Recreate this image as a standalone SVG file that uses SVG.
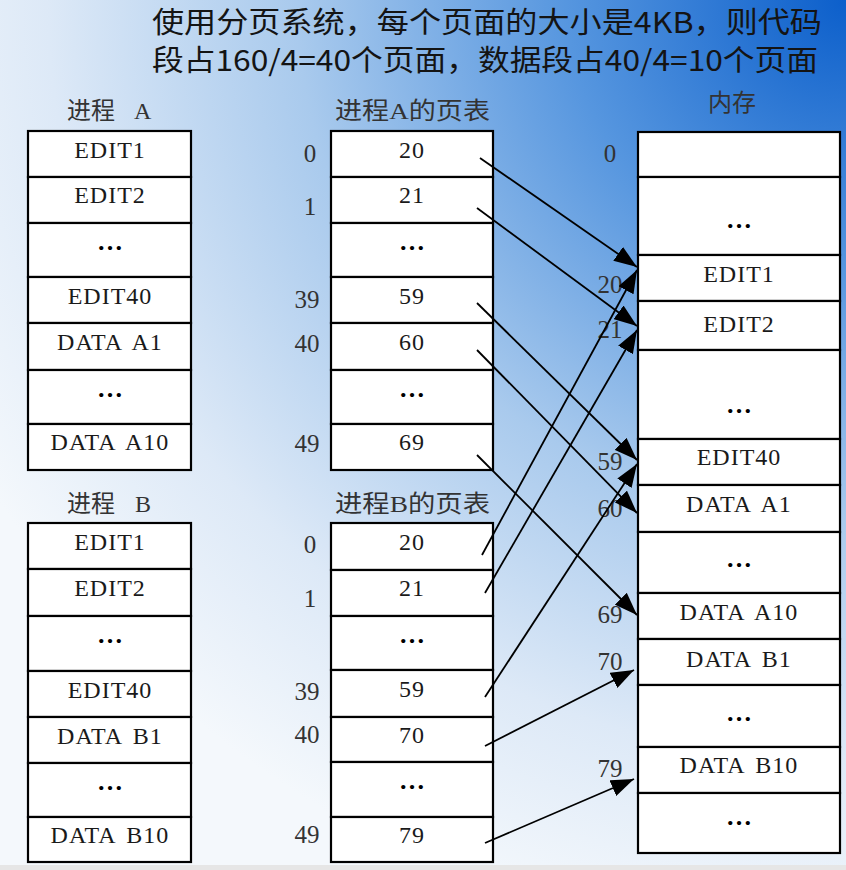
<svg xmlns="http://www.w3.org/2000/svg" width="846" height="870" viewBox="0 0 846 870">
<defs>
<radialGradient id="bg" gradientUnits="userSpaceOnUse" cx="846" cy="0" r="950" gradientTransform="translate(846 0) scale(1.05 1) translate(-846 0)">
<stop offset="0" stop-color="#0c5fcb"/>
<stop offset="0.28" stop-color="#5696df"/>
<stop offset="0.55" stop-color="#a9caed"/>
<stop offset="0.8" stop-color="#dde9f7"/>
<stop offset="1" stop-color="#f4f8fc"/>
</radialGradient>
<marker id="ah" markerUnits="userSpaceOnUse" markerWidth="23" markerHeight="17" refX="23" refY="8.5" orient="auto">
<path d="M0,0 L23,8.5 L0,17 z" fill="#000"/>
</marker>
<style>
.cell{fill:#fff;stroke:#000;stroke-width:2.2}
.t{font-family:"Liberation Serif","Noto Sans CJK SC",serif;font-size:24px;fill:#1a1a1a;text-anchor:middle;letter-spacing:1px;word-spacing:4px}
.dots{font-family:"Liberation Serif",serif;font-size:26px;fill:#000;text-anchor:middle;font-weight:bold}
.lbl{font-family:"Liberation Serif",serif;font-size:25px;fill:#333;text-anchor:middle}
.hd{font-family:"Liberation Serif","Noto Sans CJK SC",sans-serif;font-size:24px;fill:#333}
.title{font-family:"Noto Sans CJK SC","Liberation Sans",sans-serif;font-size:29px;fill:#141414}
.arr{stroke:#000;stroke-width:1.8;fill:none;marker-end:url(#ah)}
</style>
</defs>
<rect x="0" y="0" width="846" height="870" fill="url(#bg)"/>
<rect x="0" y="865" width="846" height="5" fill="#e6e6e6"/>

<g id="title">
<text class="title" x="152" y="33" textLength="670" lengthAdjust="spacingAndGlyphs">使用分页系统，每个页面的大小是4KB，则代码</text>
<text class="title" x="152" y="71" textLength="666" lengthAdjust="spacingAndGlyphs">段占160/4=40个页面，数据段占40/4=10个页面</text>
</g>

<g id="headers">
<text class="hd" x="67" y="119">进程 <tspan x="134">A</tspan></text>
<text class="hd" x="335" y="119" textLength="155" lengthAdjust="spacingAndGlyphs">进程A的页表</text>
<text class="hd" x="708" y="111">内存</text>
<text class="hd" x="67" y="512">进程 <tspan x="135">B</tspan></text>
<text class="hd" x="335" y="512" textLength="155" lengthAdjust="spacingAndGlyphs">进程B的页表</text>
</g>

<g id="processA">
<rect class="cell" x="28" y="131" width="163" height="46"/>
<rect class="cell" x="28" y="177" width="163" height="46"/>
<rect class="cell" x="28" y="223" width="163" height="54"/>
<rect class="cell" x="28" y="277" width="163" height="46"/>
<rect class="cell" x="28" y="323" width="163" height="47"/>
<rect class="cell" x="28" y="370" width="163" height="54"/>
<rect class="cell" x="28" y="424" width="163" height="46"/>
<text class="t" x="110" y="158">EDIT1</text>
<text class="t" x="110" y="203">EDIT2</text>
<text class="dots" x="110" y="250">…</text>
<text class="t" x="110" y="304">EDIT40</text>
<text class="t" x="110" y="350">DATA A1</text>
<text class="dots" x="110" y="397">…</text>
<text class="t" x="110" y="450">DATA A10</text>
</g>

<g id="pageTableA">
<rect class="cell" x="331" y="131" width="162" height="46"/>
<rect class="cell" x="331" y="177" width="162" height="46"/>
<rect class="cell" x="331" y="223" width="162" height="54"/>
<rect class="cell" x="331" y="277" width="162" height="46"/>
<rect class="cell" x="331" y="323" width="162" height="47"/>
<rect class="cell" x="331" y="370" width="162" height="54"/>
<rect class="cell" x="331" y="424" width="162" height="46"/>
<text class="t" x="412" y="158">20</text>
<text class="t" x="412" y="203">21</text>
<text class="dots" x="412" y="250">…</text>
<text class="t" x="412" y="304">59</text>
<text class="t" x="412" y="350">60</text>
<text class="dots" x="412" y="397">…</text>
<text class="t" x="412" y="450">69</text>
<text class="lbl" x="310" y="162">0</text>
<text class="lbl" x="310" y="215">1</text>
<text class="lbl" x="307" y="308">39</text>
<text class="lbl" x="307" y="352">40</text>
<text class="lbl" x="307" y="452">49</text>
</g>

<g id="processB">
<rect class="cell" x="28" y="523" width="163" height="46"/>
<rect class="cell" x="28" y="569" width="163" height="47"/>
<rect class="cell" x="28" y="616" width="163" height="55"/>
<rect class="cell" x="28" y="671" width="163" height="46"/>
<rect class="cell" x="28" y="717" width="163" height="46"/>
<rect class="cell" x="28" y="763" width="163" height="54"/>
<rect class="cell" x="28" y="817" width="163" height="45"/>
<text class="t" x="110" y="550">EDIT1</text>
<text class="t" x="110" y="596">EDIT2</text>
<text class="dots" x="110" y="643">…</text>
<text class="t" x="110" y="698">EDIT40</text>
<text class="t" x="110" y="744">DATA B1</text>
<text class="dots" x="110" y="790">…</text>
<text class="t" x="110" y="843">DATA B10</text>
</g>

<g id="pageTableB">
<rect class="cell" x="331" y="523" width="162" height="47"/>
<rect class="cell" x="331" y="570" width="162" height="46"/>
<rect class="cell" x="331" y="616" width="162" height="54"/>
<rect class="cell" x="331" y="670" width="162" height="47"/>
<rect class="cell" x="331" y="717" width="162" height="45"/>
<rect class="cell" x="331" y="762" width="162" height="55"/>
<rect class="cell" x="331" y="817" width="162" height="45"/>
<text class="t" x="412" y="550">20</text>
<text class="t" x="412" y="596">21</text>
<text class="dots" x="412" y="643">…</text>
<text class="t" x="412" y="697">59</text>
<text class="t" x="412" y="743">70</text>
<text class="dots" x="412" y="789">…</text>
<text class="t" x="412" y="843">79</text>
<text class="lbl" x="310" y="553">0</text>
<text class="lbl" x="310" y="607">1</text>
<text class="lbl" x="307" y="700">39</text>
<text class="lbl" x="307" y="743">40</text>
<text class="lbl" x="307" y="843">49</text>
</g>

<g id="memory">
<rect class="cell" x="638" y="132" width="202" height="45"/>
<rect class="cell" x="638" y="177" width="202" height="78"/>
<rect class="cell" x="638" y="255" width="202" height="46"/>
<rect class="cell" x="638" y="301" width="202" height="49"/>
<rect class="cell" x="638" y="350" width="202" height="89"/>
<rect class="cell" x="638" y="439" width="202" height="46"/>
<rect class="cell" x="638" y="485" width="202" height="47"/>
<rect class="cell" x="638" y="532" width="202" height="61"/>
<rect class="cell" x="638" y="593" width="202" height="46"/>
<rect class="cell" x="638" y="639" width="202" height="46"/>
<rect class="cell" x="638" y="685" width="202" height="62"/>
<rect class="cell" x="638" y="747" width="202" height="46"/>
<rect class="cell" x="638" y="793" width="202" height="60"/>
<text class="dots" x="739" y="228">…</text>
<text class="t" x="739" y="282">EDIT1</text>
<text class="t" x="739" y="332">EDIT2</text>
<text class="dots" x="739" y="413">…</text>
<text class="t" x="739" y="465">EDIT40</text>
<text class="t" x="739" y="512">DATA A1</text>
<text class="dots" x="739" y="567">…</text>
<text class="t" x="739" y="620">DATA A10</text>
<text class="t" x="739" y="667">DATA B1</text>
<text class="dots" x="739" y="721">…</text>
<text class="t" x="739" y="773">DATA B10</text>
<text class="dots" x="739" y="825">…</text>
<text class="lbl" x="610" y="162">0</text>
<text class="lbl" x="610" y="293">20</text>
<text class="lbl" x="610" y="338">21</text>
<text class="lbl" x="610" y="470">59</text>
<text class="lbl" x="610" y="517">60</text>
<text class="lbl" x="610" y="623">69</text>
<text class="lbl" x="610" y="670">70</text>
<text class="lbl" x="610" y="777">79</text>
</g>

<g id="connectors">
<line class="arr" x1="480" y1="158" x2="637" y2="267"/>
<line class="arr" x1="477" y1="208" x2="637" y2="326"/>
<line class="arr" x1="477" y1="303" x2="637" y2="460"/>
<line class="arr" x1="477" y1="350" x2="637" y2="513"/>
<line class="arr" x1="477" y1="455" x2="637" y2="615"/>
<line class="arr" x1="482" y1="555" x2="637" y2="270"/>
<line class="arr" x1="485" y1="593" x2="637" y2="330"/>
<line class="arr" x1="485" y1="697" x2="637" y2="464"/>
<line class="arr" x1="485" y1="746" x2="634" y2="670"/>
<line class="arr" x1="485" y1="843" x2="634" y2="779"/>
</g>
</svg>
